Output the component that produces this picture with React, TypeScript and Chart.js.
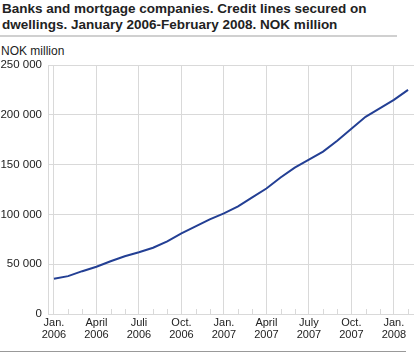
import React, { useEffect, useRef } from "react";
import { Chart, registerables } from "chart.js";

Chart.register(...registerables);

const TITLE_LINES = [
  "Banks and mortgage companies. Credit lines secured on",
  "dwellings. January 2006-February 2008. NOK million",
];
const UNIT_LABEL = "NOK million";

// Monthly observations Jan 2006 .. Feb 2008 (NOK million)
const months = [
  "2006-01", "2006-02", "2006-03", "2006-04", "2006-05", "2006-06",
  "2006-07", "2006-08", "2006-09", "2006-10", "2006-11", "2006-12",
  "2007-01", "2007-02", "2007-03", "2007-04", "2007-05", "2007-06",
  "2007-07", "2007-08", "2007-09", "2007-10", "2007-11", "2007-12",
  "2008-01", "2008-02",
];
const creditLines = [
  35500, 38000, 43000, 47500, 53000, 58000,
  62000, 66500, 73000, 81000, 88000, 95000,
  101000, 108000, 117000, 126000, 137000, 147000,
  155000, 163000, 174000, 186000, 198000, 206500,
  215000, 225000,
];

const tickMonthIndex = [0, 3, 6, 9, 12, 15, 18, 21, 24];
const tickLabels = [
  ["Jan.", "2006"], ["April", "2006"], ["Juli", "2006"], ["Oct.", "2006"],
  ["Jan.", "2007"], ["April", "2007"], ["July", "2007"], ["Oct.", "2007"],
  ["Jan.", "2008"],
];
const yTicks = [0, 50000, 100000, 150000, 200000, 250000];

const GRID = "#d9d9d9";
const FONT = "'Liberation Sans', Arial, sans-serif";

const minorTicksPlugin = {
  id: "minorTicks",
  beforeDatasetsDraw(chart: any) {
    const xs = chart.scales.x;
    const area = chart.chartArea;
    const ctx = chart.ctx;
    ctx.save();
    ctx.strokeStyle = GRID;
    ctx.lineWidth = 1;
    months.forEach((_, i) => {
      if (tickMonthIndex.includes(i)) return;
      const px = Math.round(xs.getPixelForValue(i)) + 0.5;
      ctx.beginPath();
      ctx.moveTo(px, area.bottom);
      ctx.lineTo(px, area.bottom - 5);
      ctx.stroke();
    });
    ctx.restore();
  },
};

export default function App() {
  const ref = useRef<HTMLCanvasElement | null>(null);

  useEffect(() => {
    document.body.style.margin = "0";
    const canvas = ref.current;
    if (!canvas) return;
    const chart = new Chart(canvas, {
      type: "line",
      data: {
        datasets: [
          {
            data: creditLines.map((v, i) => ({ x: i, y: v })),
            borderColor: "#233f94",
            borderWidth: 2,
            pointRadius: 0,
            tension: 0,
            fill: false,
          },
        ],
      },
      options: {
        responsive: false,
        animation: false,
        layout: { padding: { top: 65, right: 1, left: 0, bottom: 0 } },
        plugins: { legend: { display: false }, tooltip: { enabled: false }, title: { display: false } },
        scales: {
          x: {
            type: "linear",
            min: -0.42,
            max: 25.42,
            afterBuildTicks: (scale: any) => {
              scale.ticks = tickMonthIndex.map((v) => ({ value: v }));
            },
            afterFit: (scale: any) => {
              scale.height = 39;
            },
            grid: { color: GRID, lineWidth: 1, drawTicks: false },
            border: { display: false },
            ticks: {
              autoSkip: false,
              maxRotation: 0,
              padding: 3,
              color: "#222",
              font: { family: FONT, size: 11, lineHeight: 1.1 },
              callback: (value: any) => {
                const k = tickMonthIndex.indexOf(Number(value));
                return k >= 0 ? tickLabels[k] : "";
              },
            },
          },
          y: {
            min: 0,
            max: 250000,
            afterBuildTicks: (scale: any) => {
              scale.ticks = yTicks.map((v) => ({ value: v }));
            },
            afterFit: (scale: any) => {
              scale.width = 48;
            },
            grid: { color: GRID, lineWidth: 1, drawTicks: false },
            border: { display: true, color: GRID, width: 1 },
            ticks: {
              padding: 6,
              color: "#222",
              font: { family: FONT, size: 11.5 },
              callback: (value: any) =>
                Number(value).toLocaleString("en-US").replace(/,/g, " "),
            },
          },
        },
      },
      plugins: [minorTicksPlugin],
    });
    return () => chart.destroy();
  }, []);

  return (
    <div style={{ position: "fixed", left: 0, top: 0, width: 415, height: 353, background: "#fff" }}>
      <div
        style={{
          position: "absolute",
          left: 2,
          top: 1,
          fontFamily: FONT,
          fontWeight: "bold",
          fontSize: 13.5,
          lineHeight: "15.5px",
          color: "#222",
          whiteSpace: "nowrap",
        }}
      >
        {TITLE_LINES.map((l, i) => (
          <div key={i}>{l}</div>
        ))}
      </div>
      <div style={{ position: "absolute", left: 0, top: 35, width: 397, height: 2, background: "#d0d0d0" }} />
      <div
        style={{
          position: "absolute",
          left: 1,
          top: 44,
          fontFamily: FONT,
          fontSize: 12,
          lineHeight: "14px",
          color: "#222",
        }}
      >
        {UNIT_LABEL}
      </div>
      <canvas ref={ref} width={415} height={353} style={{ position: "absolute", left: 0, top: 0 }} />
      <div style={{ position: "absolute", left: 0, top: 351, width: 406, height: 1, background: "#999" }} />
    </div>
  );
}
